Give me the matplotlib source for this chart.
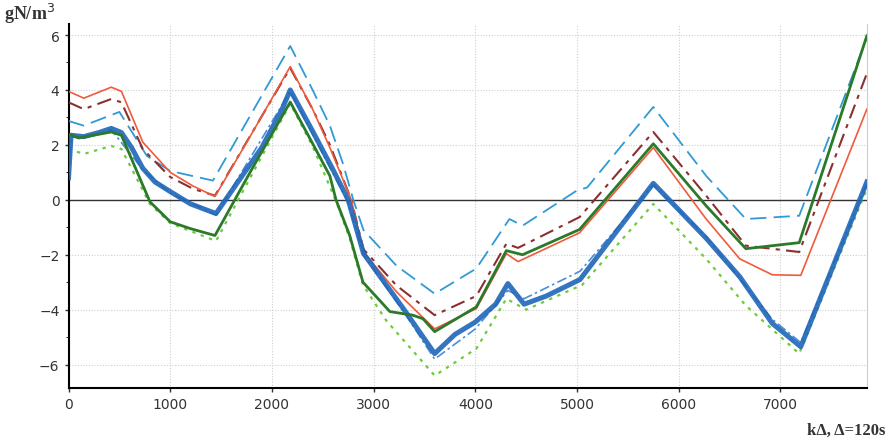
import numpy as np
import matplotlib.pyplot as plt

# ---- data (x in steps k, y in gN/m^3) ----
red_x = [0, 150, 420, 520, 730, 1000, 1225, 1440, 1800, 2180, 2400, 2570, 2780, 2900,
         3225, 3600, 4010, 4305, 4420, 5025, 5750, 6270, 6600, 6920, 7200, 7850]
red_y = [3.95, 3.7, 4.1, 3.95, 2.1, 1.0, 0.5, 0.12, 2.4, 4.85, 3.3, 1.9, 0.0, -1.9,
         -3.35, -4.7, -3.96, -1.96, -2.25, -1.2, 1.9, -0.7, -2.15, -2.73, -2.75, 3.3]

brown_x = [0, 150, 420, 520, 730, 1000, 1225, 1440, 2180, 2400, 2570, 2780, 2900, 3225,
           3600, 4010, 4305, 4420, 5025, 5750, 6270, 6660, 7185, 7850]
brown_y = [3.55, 3.3, 3.67, 3.55, 1.85, 0.83, 0.4, 0.15, 4.8, 3.3, 2.0, 0.0, -1.8, -3.12,
           -4.2, -3.5, -1.6, -1.75, -0.63, 2.47, 0.15, -1.67, -1.9, 4.6]

cyan_x = [0, 150, 500, 770, 1000, 1420, 2180, 2400, 2570, 2700, 2800, 2900, 3225, 3600,
          4010, 4335, 4465, 4995, 5100, 5750, 6270, 6660, 7185, 7850]
cyan_y = [2.87, 2.7, 3.2, 1.6, 1.05, 0.7, 5.6, 4.0, 2.7, 1.3, 0.0, -1.1, -2.4, -3.42,
          -2.5, -0.7, -0.94, 0.33, 0.45, 3.38, 0.87, -0.7, -0.58, 5.9]

blue_x = [0, 25, 150, 300, 420, 520, 620, 730, 850, 1000, 1200, 1450, 1600, 1900,
          2100, 2180, 2400, 2600, 2750, 2900, 3300, 3600, 3800, 4000, 4200, 4320,
          4480, 4700, 5030, 5400, 5750, 6270, 6600, 6920, 7200, 7850]
blue_y = [0.8, 2.35, 2.3, 2.45, 2.6, 2.45, 1.9, 1.15, 0.65, 0.3, -0.15, -0.5, 0.3, 1.9,
          3.3, 4.0, 2.5, 1.1, 0.0, -1.95, -4.0, -5.6, -4.9, -4.45, -3.8, -3.05,
          -3.8, -3.5, -2.9, -1.1, 0.6, -1.4, -2.8, -4.5, -5.35, 0.65]

blue2_x = [0, 25, 150, 420, 730, 1000, 1450, 2180, 2750, 2900, 3300, 3600, 4000,
           4320, 4480, 5030, 5400, 5750, 6270, 6920, 7200, 7850]
blue2_y = [0.9, 2.3, 2.25, 2.55, 1.1, 0.25, -0.55, 3.95, -0.1, -2.0, -4.1, -5.8, -4.7,
           -3.3, -3.6, -2.6, -1.0, 0.55, -1.35, -4.35, -5.2, 0.6]

green_x = [0, 100, 420, 520, 800, 1000, 1200, 1440, 1800, 2180, 2400, 2570, 2630,
           2765, 2895, 3160, 3385, 3485, 3600, 4010, 4305, 4465, 5025, 5750, 6270,
           6660, 7185, 7850]
green_y = [2.4, 2.25, 2.47, 2.35, -0.07, -0.8, -1.05, -1.3, 1.1, 3.56, 2.05, 0.87, 0.0,
           -1.3, -3.0, -4.07, -4.2, -4.33, -4.8, -3.9, -1.85, -2.0, -1.08, 2.04, -0.22,
           -1.78, -1.56, 5.97]

lgreen_x = [0, 150, 420, 520, 800, 1000, 1450, 2180, 2400, 2630, 2765, 2895, 3125,
            3600, 4010, 4305, 4500, 5050, 5750, 6270, 6660, 7185, 7850]
lgreen_y = [1.85, 1.67, 1.96, 1.85, -0.15, -0.85, -1.5, 3.5, 1.95, -0.05, -1.4, -3.1,
            -4.4, -6.4, -5.42, -3.6, -4.0, -3.1, -0.15, -2.15, -3.85, -5.6, 0.4]

x_ticks = [0, 1000, 2000, 3000, 4000, 5000, 6000, 7000]
y_ticks = [-6, -4, -2, 0, 2, 4, 6]

fig = plt.figure(figsize=(8.9, 4.39), dpi=100)
ax = fig.add_axes([0.077, 0.114, 0.897, 0.829])

ax.axhline(0, color="#333333", linewidth=1.0, zorder=2)

ax.plot(cyan_x, cyan_y, color="#2f9ad6", linewidth=1.3, dashes=(9, 4), zorder=3)
ax.plot(brown_x, brown_y, color="#8b3030", linewidth=1.5, dashes=(7, 3, 2, 3), zorder=3)
ax.plot(red_x, red_y, color="#f05a3c", linewidth=1.2, zorder=3)
ax.plot(lgreen_x, lgreen_y, color="#6ccc3c", linewidth=1.6, dashes=(1.5, 2.5), zorder=3)
ax.plot(blue2_x, blue2_y, color="#4a8fd8", linewidth=1.2, dashes=(6, 2, 1.5, 2), zorder=3)
ax.plot(blue_x, blue_y, color="#1f66b8", linewidth=3.6, alpha=0.9, zorder=4,
        solid_joinstyle="round")
ax.plot(green_x, green_y, color="#2a7a2a", linewidth=2.0, zorder=5)

ax.set_xlim(0, 7850)
ax.set_ylim(-6.85, 6.4)
ax.set_xticks(x_ticks)
ax.set_yticks(y_ticks)
ax.set_yticks(np.arange(-5, 6, 2), minor=True)
ax.tick_params(axis="both", labelsize=10, length=3, width=1, color="#333333",
               labelcolor="#333333")
ax.tick_params(axis="y", which="minor", length=2)
ax.grid(True, color="#cfcfcf", linestyle=(0, (1, 1.5)), linewidth=0.8)

ax.spines["top"].set_visible(False)
ax.spines["right"].set_color("#cccccc")
ax.spines["left"].set_linewidth(1.5)
ax.spines["bottom"].set_linewidth(1.5)

fig.text(0.005, 0.955, "gN/m$^3$", fontsize=13, fontweight="bold",
         family="Liberation Serif", color="#333333")
fig.text(0.995, 0.01, "kΔ, Δ=120s", fontsize=12, fontweight="bold",
         family="Liberation Serif", color="#333333", ha="right")

fig.savefig("out.png", dpi=100)
